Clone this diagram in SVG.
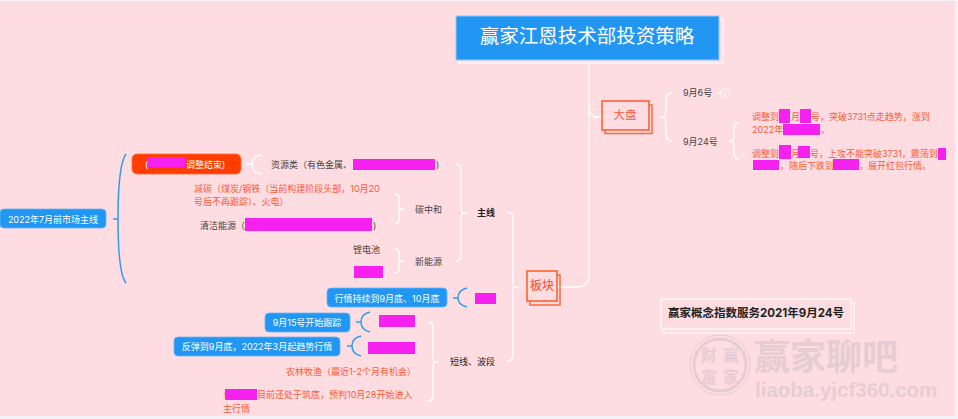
<svg xmlns="http://www.w3.org/2000/svg" width="958" height="419" viewBox="0 0 958 419">
<style>
text{font-family:"Inter","Noto Sans CJK SC","Noto Sans",sans-serif;font-size:9px;dominant-baseline:central;fill:#4a3f45}
.w{fill:#fff}.r{fill:#ff5a36}.d{fill:#222}.c{text-anchor:middle}
.bl{fill:#2196f3;stroke:#64b5f6;stroke-width:.8}
.m{fill:#f522ef}
.cw{fill:none;stroke:#fff;stroke-width:1.3}
.cb{fill:none;stroke:#2f9bf0;stroke-width:1.5}
.sh{fill:none;stroke-width:1.5}
.wm{fill:#e6ccd4;font-weight:700}
</style>
<rect width="958" height="419" fill="#f3f3f5"/>
<rect x="0" y="1" width="955" height="415" fill="#fddde1"/>
<g id="connectors">
<path class="cw" d="M589 64V275Q589 287 577 287H527"/>
<path class="cw" d="M589 105Q589 117 596 117H602"/>
<path class="cw" d="M660 117H662Q666 117 666 110V100Q666 93 672 93M662 117Q666 117 666 124V134Q666 141 672 141"/>
<path class="cw" d="M718 93H720"/>
<path class="cw" d="M729 141H731Q734 141 734 136V129Q734 123 739 123M731 141Q734 141 734 146V153Q734 159 739 159"/>
<path class="cw" d="M519 287H514Q513 287 513 281V218Q513 212 507 212M514 287Q513 287 513 293V355Q513 361 507 361"/>
<path class="cw" d="M468 213H464Q461 213 461 208V170Q461 164 456 164M464 213Q461 213 461 218V255Q461 261 456 261"/>
<path class="cw" d="M404 209H401Q399 209 399 205V199Q399 194 395 194M401 209Q399 209 399 213V219Q399 224 395 224"/>
<path class="cw" d="M404 261H401Q399 261 399 257V253Q399 249 395 249M401 261Q399 261 399 265V269Q399 273 395 273"/>
<path class="cw" d="M439 362H435Q433 362 433 357V328Q433 322 428 322M435 362Q433 362 433 367V395Q433 401 428 401"/>
<path class="cw" d="M246 164H252M262 155Q252 156 252 164Q252 173 262 174"/>
<path class="cb" d="M113 219H118M126 154Q118 165 118 219Q118 273 126 283"/>
<path class="cb" d="M453 298H458M467 288Q458 290 458 298Q458 305 467 307"/>
<path class="cb" d="M356 322H361M370 312Q361 314 361 322Q361 330 370 332"/>
<path class="cb" d="M347 346H352M361 336Q352 338 352 346Q352 354 361 356"/>
</g>
<g id="title">
<rect x="459" y="19" width="264" height="44" fill="none" stroke="#fff" stroke-width="1"/>
<rect x="456" y="16" width="263" height="44" fill="#2196f3" stroke="#90caf9" stroke-width="1"/>
<text class="w c" x="587" y="36" style="font-size:19.5px">赢家江恩技术部投资策略</text>
</g>
<g id="dapan">
<rect class="sh" x="605" y="105" width="47" height="28.500" stroke="#ff6a3c"/>
<rect x="602" y="101" width="47" height="29" fill="#fddde1" stroke="#ff5a2a" stroke-width="1.500"/>
<text class="r c" x="625" y="115" style="font-size:11.500px">大盘</text>
</g>
<g id="sep6">
<text x="683" y="92">9月6号</text>
<circle cx="725" cy="93" r="4.500" fill="none" stroke="#fff" stroke-width=".8"/>
<text class="w c" x="725" y="93" style="font-size:6px">2</text>
</g>
<g id="sep24"><text x="683" y="141">9月24号</text></g>
<g id="note1">
<text class="r" x="752" y="116">调整到</text><text class="r" x="791" y="116">月</text><text class="r" x="811" y="116">号，突破3731点走趋势，涨到</text>
<text class="r" x="752" y="129">2022年</text><text class="r" x="821" y="129">。</text>
<rect class="m" x="779" y="109" width="11" height="14"/><rect class="m" x="800" y="109" width="11" height="14"/><rect class="m" x="783" y="124" width="37" height="11"/>
</g>
<g id="note2">
<text class="r" x="752" y="153">调整到</text><text class="r" x="791" y="153">月</text><text class="r" x="810" y="153">号，上攻不能突破3731，震荡到</text>
<text class="r" x="780" y="165">，随后下跌到</text><text class="r" x="859" y="165">，展开红包行情。</text>
<rect class="m" x="779" y="145" width="12" height="14"/><rect class="m" x="798" y="146" width="12" height="12"/><rect class="m" x="938" y="148" width="8" height="12"/><rect class="m" x="753" y="160" width="26" height="10"/><rect class="m" x="833" y="159" width="26" height="11"/>
</g>
<g id="bankuai">
<rect class="sh" x="530" y="275" width="30" height="30" stroke="#ff6a3c"/>
<rect x="527" y="271" width="30" height="30" fill="#fddde1" stroke="#ff5a1e" stroke-width="1.500"/>
<text class="c" x="542" y="285" style="font-size:12px;fill:#ff5a36;font-weight:500">板块</text>
</g>
<g id="root">
<rect class="bl" x="0" y="209" width="106" height="19" rx="4"/>
<text class="w c" x="53" y="219">2022年7月前市场主线</text>
</g>
<g id="red-node">
<rect x="132" y="154" width="109" height="20" rx="5" fill="#ff3d00" stroke="#ff6a3c" stroke-width=".8"/>
<text class="w" x="145" y="164">(</text><text class="w" x="186" y="164">调整结束)</text>
<rect class="m" x="148" y="157" width="37" height="10"/>
</g>
<g id="ziyuan">
<text x="271" y="164">资源类（有色金属、</text><text x="436" y="164">)</text>
<rect class="m" x="353" y="159" width="82" height="11"/>
</g>
<g id="zhuxian"><text class="d" x="477" y="212" style="font-weight:700">主线</text></g>
<g id="tanzhonghe"><text x="415" y="209">碳中和</text></g>
<g id="xinnengyuan"><text x="415" y="261">新能源</text></g>
<g id="jiantan">
<text class="r" x="194" y="188">减碳（煤炭/钢铁（当前构建阶段头部，10月20</text>
<text class="r" x="194" y="201">号后不再跟踪）、火电）</text>
</g>
<g id="qingjie">
<text x="200" y="225">清洁能源（</text><text x="373" y="225">)</text>
<rect class="m" x="245" y="218" width="127" height="13"/>
</g>
<g id="lidian"><text x="353" y="249">锂电池</text></g>
<g id="mask-lidian"><rect class="m" x="354" y="266" width="29" height="12"/></g>
<g id="hangqing">
<rect class="bl" x="327" y="288" width="120" height="19" rx="4"/>
<text class="w c" x="387" y="298">行情持续到9月底、10月底</text>
<rect class="m" x="475" y="293" width="21" height="11"/>
</g>
<g id="sep15">
<rect class="bl" x="265" y="313" width="85" height="19" rx="4"/>
<text class="w c" x="307" y="322">9月15号开始跟踪</text>
<rect class="m" x="379" y="315" width="36" height="12"/>
</g>
<g id="fantan">
<rect class="bl" x="174" y="337" width="166" height="19" rx="4"/>
<text class="w c" x="257" y="346">反弹到9月底，2022年3月起趋势行情</text>
<rect class="m" x="368" y="342" width="47" height="12"/>
</g>
<g id="duanxian"><text class="d" x="450" y="361">短线、波段</text></g>
<g id="nonglin"><text class="r" x="286" y="371">农林牧渔（最近1-2个月有机会）</text></g>
<g id="last">
<text class="r" x="223" y="394">仓</text><text class="r" x="257" y="394">目前还处于筑底，预判10月28开始进入</text>
<text class="r" x="223" y="408">主行情</text>
<rect class="m" x="225" y="389" width="32" height="11"/>
</g>
<g id="caption">
<rect x="664" y="303" width="190" height="30" fill="none" stroke="#fff"/>
<rect x="661" y="299" width="190" height="30" fill="#fddde1" stroke="#fff"/>
<text class="d" x="668" y="313" style="font-size:11.500px;font-weight:700">赢家概念指数服务2021年9月24号</text>
</g>
<g id="watermark">
<circle cx="720" cy="365" r="26" fill="none" stroke="#e6ccd4" stroke-width="3"/>
<circle cx="720" cy="365" r="30" fill="none" stroke="#e6ccd4" stroke-width="1"/>
<text class="wm c" x="709" y="355" style="font-size:16px">财</text><text class="wm c" x="731" y="355" style="font-size:16px">赢</text>
<text class="wm c" x="709" y="377" style="font-size:16px">富</text><text class="wm c" x="731" y="377" style="font-size:16px">家</text>
<text class="wm" x="754" y="357" style="font-size:36px">赢家聊吧</text>
<text class="wm" x="755" y="389" style="font-family:'Liberation Sans',sans-serif;font-size:20.500px">liaoba.yjcf360.com</text>
</g>
</svg>
